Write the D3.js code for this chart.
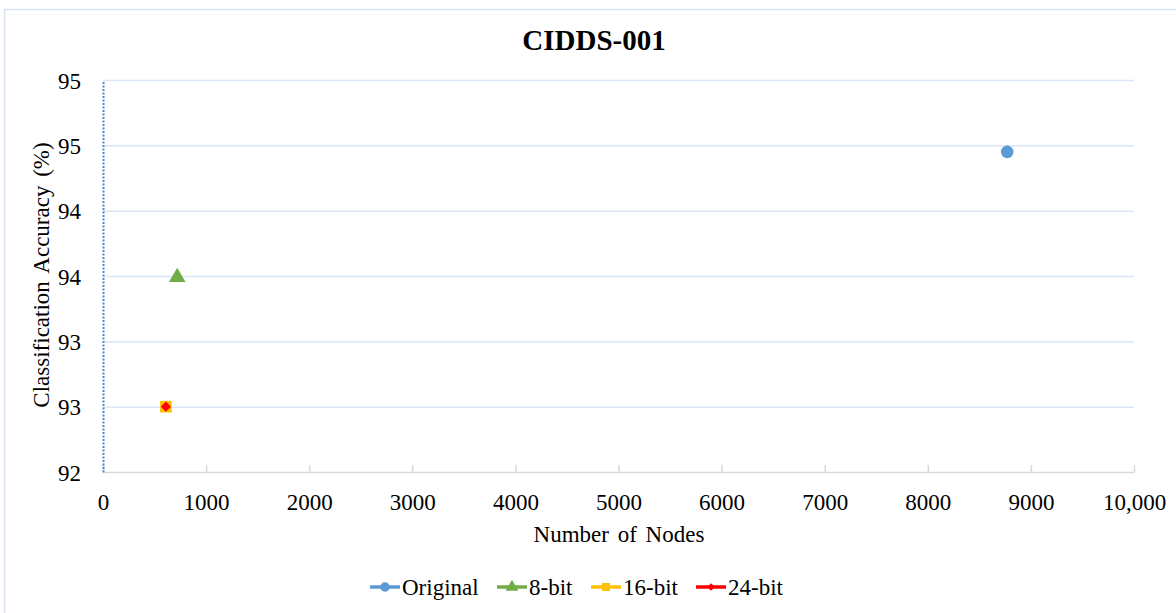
<!DOCTYPE html>
<html>
<head>
<meta charset="utf-8">
<script src="https://cdn.jsdelivr.net/npm/d3@7"></script>
<style>
  html, body { margin: 0; padding: 0; background: #fff; }
  svg { display: block; }
</style>
</head>
<body>
<svg id="chart" width="1176" height="613"></svg>
<script>
const seriesNames = ["Original", "8-bit", "16-bit", "24-bit"];
const seriesColors = ["#5b9bd5", "#70ad47", "#ffc000", "#ff0000"];
const seriesNodes = [8770, 720, 610, 610];
const seriesAccuracy = [94.45, 93.49, 92.5, 92.5];
const xTickValues = [0, 1000, 2000, 3000, 4000, 5000, 6000, 7000, 8000, 9000, 10000];
const xTickLabels = ["0", "1000", "2000", "3000", "4000", "5000", "6000", "7000", "8000", "9000", "10,000"];
const yTickValues = [92, 92.5, 93, 93.5, 94, 94.5, 95];
const yTickLabels = ["92", "93", "93", "94", "94", "95", "95"];

const FONT = "Liberation Serif";
const svg = d3.select("#chart");
const m = { left: 103, right: 1134, top: 80, bottom: 472 };

// outer border
svg.append("rect")
  .attr("x", 4.5).attr("y", 9.5)
  .attr("width", 1200).attr("height", 700)
  .attr("fill", "none").attr("stroke", "#dae3f3").attr("stroke-width", 1.5);

const x = d3.scaleLinear().domain([0, 10000]).range([m.left, m.right]);
const y = d3.scaleLinear().domain([92, 95]).range([m.bottom, m.top]);

// gridlines
const grid = svg.append("g")
  .attr("transform", `translate(${m.left},0)`)
  .call(d3.axisLeft(y).tickValues(yTickValues.slice(1)).tickSize(-(m.right - m.left)).tickFormat(""));
grid.select(".domain").remove();
grid.selectAll("line").attr("stroke", "#dae6f5").attr("stroke-width", 1.5);

// x axis
const xAxis = svg.append("g")
  .attr("transform", `translate(0,${m.bottom})`)
  .call(d3.axisBottom(x).tickValues(xTickValues).tickSizeInner(-7).tickSizeOuter(0)
    .tickFormat((d, i) => xTickLabels[i]));
xAxis.attr("font-family", FONT).attr("font-size", 23);
xAxis.select(".domain").attr("stroke", "#d9d9d9").attr("stroke-width", 1.5);
xAxis.selectAll(".tick line").attr("stroke", "#d9d9d9").attr("stroke-width", 1.5);
xAxis.selectAll(".tick text")
  .attr("y", 38).attr("dy", 0).attr("fill", "#000")
  .attr("font-family", FONT).attr("font-size", 23);

// y axis
const yAxis = svg.append("g")
  .attr("transform", `translate(${m.left},0)`)
  .call(d3.axisLeft(y).tickValues(yTickValues).tickSize(0)
    .tickFormat((d, i) => yTickLabels[i]));
yAxis.attr("font-family", FONT).attr("font-size", 23);
yAxis.select(".domain")
  .attr("stroke", "#4a8ad0").attr("stroke-width", 2)
  .attr("stroke-dasharray", "2,1.5");
yAxis.selectAll(".tick text")
  .attr("x", -22).attr("dy", "0.35em").attr("fill", "#000")
  .attr("font-family", FONT).attr("font-size", 23);

// title
svg.append("text")
  .attr("x", 594).attr("y", 50)
  .attr("text-anchor", "middle")
  .attr("font-family", FONT).attr("font-size", 29).attr("font-weight", "bold")
  .text("CIDDS-001");

// axis titles
svg.append("text")
  .attr("x", 619).attr("y", 542)
  .attr("text-anchor", "middle")
  .attr("font-family", FONT).attr("font-size", 23)
  .attr("word-spacing", 3)
  .text("Number of Nodes");

svg.append("text")
  .attr("transform", "translate(49,275) rotate(-90)")
  .attr("text-anchor", "middle")
  .attr("font-family", FONT).attr("font-size", 23)
  .attr("word-spacing", 3)
  .text("Classification Accuracy (%)");

// markers (diamond = square rotated 45deg)
const symbolTypes = [d3.symbolCircle, d3.symbolTriangle, d3.symbolSquare, d3.symbolSquare];
const symbolRot = [0, 0, 0, 45];
const symbolSizes = [125, 120, 135, 52];
const legendSizes = [70, 70, 64, 30];

const data = seriesNames.map((name, i) => ({
  name, color: seriesColors[i], xv: seriesNodes[i], yv: seriesAccuracy[i],
  sym: symbolTypes[i], size: symbolSizes[i], rot: symbolRot[i], lsize: legendSizes[i]
}));

svg.append("g").selectAll("path")
  .data(data)
  .join("path")
  .attr("transform", d => `translate(${x(d.xv)},${y(d.yv)}) rotate(${d.rot})`)
  .attr("d", d => d3.symbol().type(d.sym).size(d.size)())
  .attr("fill", d => d.color);

// legend
const legendX = [370, 497, 591, 696];
const legendY = 587;
const lg = svg.append("g");
data.forEach((d, i) => {
  const g = lg.append("g").attr("transform", `translate(${legendX[i]},${legendY})`);
  g.append("line").attr("x1", 0).attr("x2", 30).attr("y1", 0).attr("y2", 0)
    .attr("stroke", d.color).attr("stroke-width", 3.5);
  g.append("path")
    .attr("transform", `translate(15,0) rotate(${d.rot})`)
    .attr("d", d3.symbol().type(d.sym).size(d.lsize)())
    .attr("fill", d.color);
  g.append("text").attr("x", 32).attr("y", 8)
    .attr("font-family", FONT).attr("font-size", 23)
    .text(d.name);
});
</script>
</body>
</html>
